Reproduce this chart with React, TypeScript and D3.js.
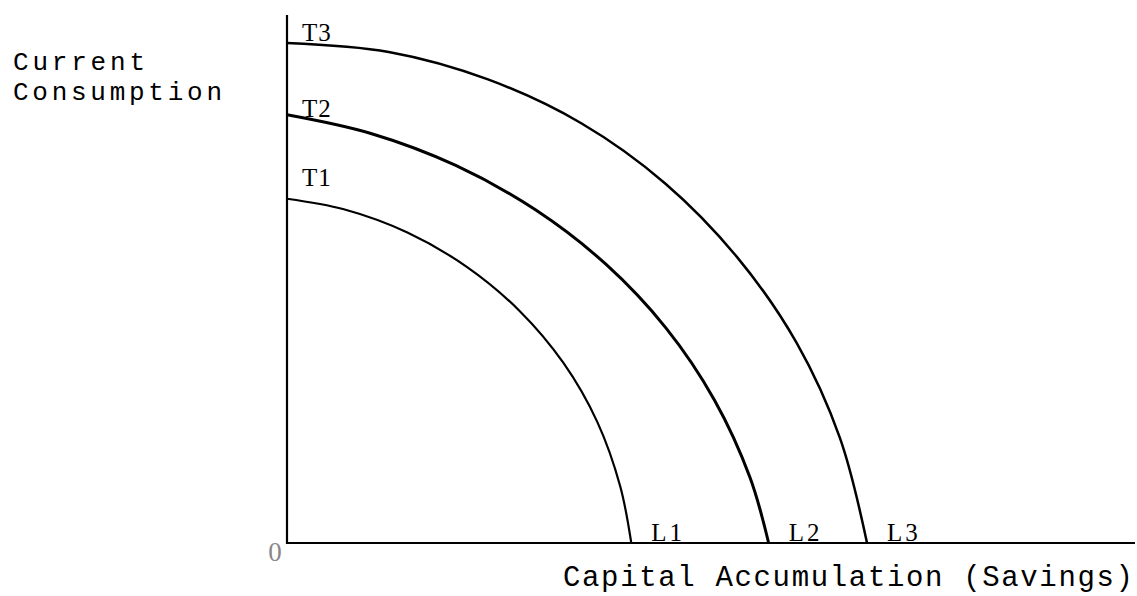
import React from "react";
import * as d3 from "d3";

// Frontier curves (capital accumulation, current consumption)
const frontierT1: [number, number][] = [
  [0, 65.2], [6.7, 63.2], [14.2, 58.8], [21.2, 52.3], [27.4, 44.0],
  [32.6, 34.1], [36.6, 22.9], [39.3, 10.7], [40.6, 0],
];
const frontierT2: [number, number][] = [
  [0, 81.1], [9.8, 77.6], [19.9, 71.5], [29.3, 63.1], [37.6, 52.8],
  [44.7, 40.7], [50.4, 27.1], [54.6, 12.4], [56.8, 0],
];
const frontierT3: [number, number][] = [
  [0, 94.7], [12.0, 93.0], [23.7, 87.8], [34.7, 79.5], [44.6, 68.1],
  [53.1, 54.1], [60.1, 37.9], [65.2, 19.9], [68.4, 0],
];
const topLabels = ["T1", "T2", "T3"];
const bottomLabels = ["L1", "L2", "L3"];
const xTitle = "Capital Accumulation (Savings)";
const yTitle = ["Current", "Consumption"];
const originLabel = "0";

const series = [
  { pts: frontierT1, top: topLabels[0], bottom: bottomLabels[0], sw: 2.2, dy: -13 },
  { pts: frontierT2, top: topLabels[1], bottom: bottomLabels[1], sw: 3, dy: 2 },
  { pts: frontierT3, top: topLabels[2], bottom: bottomLabels[2], sw: 2.5, dy: -2 },
];

export default function App() {
  const W = 1137, H = 596;
  const x = d3.scaleLinear().domain([0, 100]).range([287, 1135]);
  const y = d3.scaleLinear().domain([0, 100]).range([543, 15]);
  const line = d3
    .line<[number, number]>()
    .x((d) => x(d[0]))
    .y((d) => y(d[1]))
    .curve(d3.curveCatmullRom.alpha(0.5));
  const mono = "'Courier New', 'Liberation Mono', monospace";
  const serif = "'Liberation Serif', 'Times New Roman', serif";
  return (
    <svg
      width={W}
      height={H}
      style={{ position: "absolute", left: 0, top: 0, background: "#fff" }}
    >
      {/* axes */}
      <line x1={x(0)} y1={y(100)} x2={x(0)} y2={y(0) + 1} stroke="#000" strokeWidth={2.2} />
      <line x1={x(0)} y1={y(0)} x2={x(100)} y2={y(0)} stroke="#000" strokeWidth={2.2} />
      {series.map((s, i) => (
        <g key={i}>
          <path d={line(s.pts) || ""} fill="none" stroke="#000" strokeWidth={s.sw} />
          <text
            x={x(0) + 15}
            y={y(s.pts[0][1]) + s.dy}
            fontFamily={serif}
            fontSize={25}
            letterSpacing={1}
          >
            {s.top}
          </text>
          <text
            x={x(s.pts[s.pts.length - 1][0]) + 20}
            y={y(0) - 2}
            fontFamily={serif}
            fontSize={25}
            letterSpacing={3}
          >
            {s.bottom}
          </text>
        </g>
      ))}
      <text
        x={x(0) - 12}
        y={y(0) + 18}
        fontFamily={serif}
        fontSize={27}
        fill="#888"
        textAnchor="middle"
      >
        {originLabel}
      </text>
      <text x={13} y={70} fontFamily={mono} fontSize={26} textLength={132} lengthAdjust="spacing">
        {yTitle[0]}
      </text>
      <text x={13} y={100} fontFamily={mono} fontSize={26} textLength={209} lengthAdjust="spacing">
        {yTitle[1]}
      </text>
      <text x={563} y={586} fontFamily={mono} fontSize={29} textLength={570} lengthAdjust="spacing">
        {xTitle}
      </text>
    </svg>
  );
}
